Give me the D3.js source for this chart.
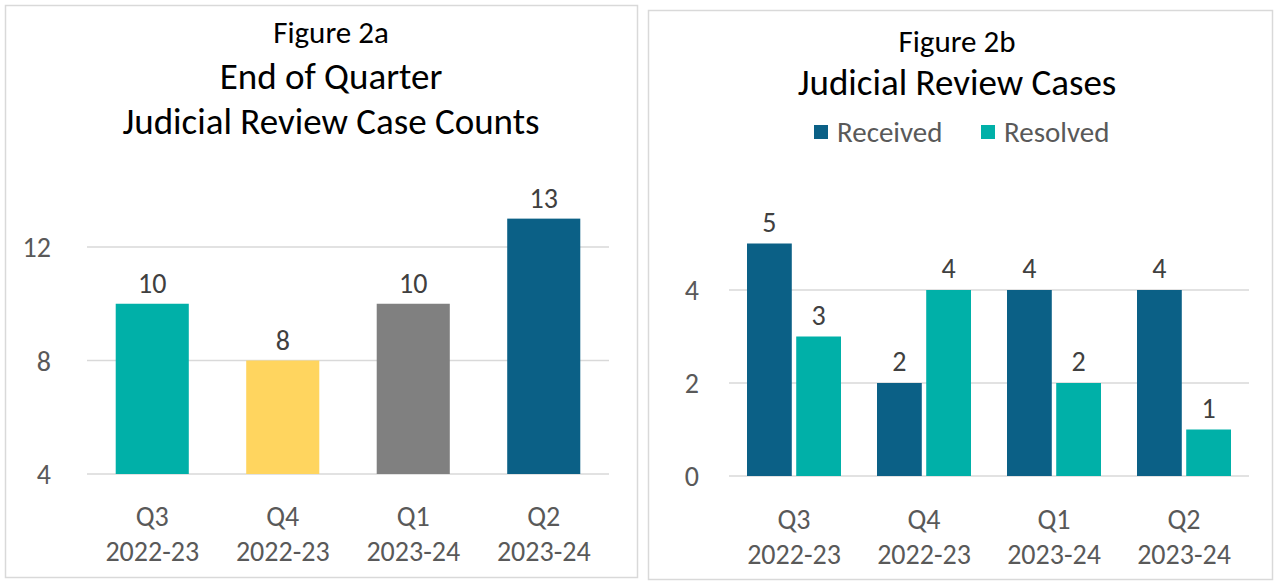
<!DOCTYPE html>
<html><head><meta charset="utf-8">
<script src="https://cdn.jsdelivr.net/npm/d3@7"></script>
<style>
html,body{margin:0;padding:0;background:#fff;}
svg{display:block;font-family:Carlito,Calibri,Lato,"Open Sans",sans-serif;}
</style></head>
<body>
<svg id="chart" width="1276" height="582"></svg>
<script>
// ---- Data ----
const quarters = ["Q3", "Q4", "Q1", "Q2"];
const fiscalYears = ["2022-23", "2022-23", "2023-24", "2023-24"];
const caseCounts = [10, 8, 10, 13];
const countColors = ["#00B0A8", "#FFD55F", "#808080", "#0B6086"];
const leftTicks = [4, 8, 12];

const seriesNames = ["Received", "Resolved"];
const received = [5, 2, 4, 4];
const resolved = [3, 4, 2, 1];
const seriesColors = ["#0B6086", "#00B0A8"];
const rightTicks = [0, 2, 4];

const svg = d3.select("#chart");
const gridColor = "#d9d9d9", axisText = "#595959", labelText = "#404040";
const fsAxis = 28, fsLabel = 28, fsFig = 31, fsTitle = 37, fsLegend = 29;

// Panel borders
svg.append("rect").attr("x", 5.5).attr("y", 5.5).attr("width", 632).attr("height", 572)
  .attr("fill", "#fff").attr("stroke", "#d9d9d9").attr("stroke-width", 1.5);
svg.append("rect").attr("x", 648.5).attr("y", 10.5).attr("width", 624).attr("height", 569)
  .attr("fill", "#fff").attr("stroke", "#d9d9d9").attr("stroke-width", 1.5);

function xLabels(g, x, y0) {
  quarters.forEach((q, i) => {
    const cx = x(q) + x.bandwidth() / 2;
    g.append("text").attr("x", cx).attr("y", y0).attr("text-anchor", "middle")
      .attr("font-size", fsAxis).attr("fill", axisText).text(q);
    g.append("text").attr("x", cx).attr("y", y0 + 35).attr("text-anchor", "middle")
      .attr("font-size", fsAxis).attr("fill", axisText).text(fiscalYears[i]);
  });
}

// ---- Left chart ----
{
  const g = svg.append("g");
  const x = d3.scaleBand().domain(quarters).range([87, 609]).paddingInner(0.44).paddingOuter(0.22);
  const y = d3.scaleLinear().domain([4, 12]).range([474, 247]);
  g.selectAll(".grid").data(leftTicks).join("line")
    .attr("x1", 87).attr("x2", 609).attr("y1", d => y(d)).attr("y2", d => y(d))
    .attr("stroke", gridColor).attr("stroke-width", 1.5);
  g.selectAll(".yt").data(leftTicks).join("text")
    .attr("x", 51).attr("y", d => y(d) + 10).attr("text-anchor", "end")
    .attr("font-size", fsAxis).attr("fill", axisText).text(d => d);
  g.selectAll(".bar").data(caseCounts).join("rect")
    .attr("x", (d, i) => x(quarters[i])).attr("width", x.bandwidth())
    .attr("y", d => y(d)).attr("height", d => y(4) - y(d))
    .attr("fill", (d, i) => countColors[i]);
  g.selectAll(".lbl").data(caseCounts).join("text")
    .attr("x", (d, i) => x(quarters[i]) + x.bandwidth() / 2).attr("y", d => y(d) - 11)
    .attr("text-anchor", "middle").attr("font-size", fsLabel).attr("fill", labelText).text(d => d);
  xLabels(g, x, 526);
  g.append("text").attr("x", 331).attr("y", 43).attr("text-anchor", "middle")
    .attr("font-size", fsFig).attr("fill", "#000").text("Figure 2a");
  g.append("text").attr("x", 331).attr("y", 89).attr("text-anchor", "middle")
    .attr("font-size", fsTitle).attr("fill", "#000").text("End of Quarter");
  g.append("text").attr("x", 331).attr("y", 134).attr("text-anchor", "middle")
    .attr("font-size", fsTitle).attr("fill", "#000").text("Judicial Review Case Counts");
}

// ---- Right chart ----
{
  const g = svg.append("g");
  const x0 = d3.scaleBand().domain(quarters).range([729, 1249]).paddingInner(0.277).paddingOuter(0.1385);
  const x1 = d3.scaleBand().domain(seriesNames).range([0, x0.bandwidth()]).paddingInner(0.09);
  const y = d3.scaleLinear().domain([0, 5]).range([476, 243.5]);
  g.selectAll(".grid").data(rightTicks).join("line")
    .attr("x1", 729).attr("x2", 1249).attr("y1", d => y(d)).attr("y2", d => y(d))
    .attr("stroke", gridColor).attr("stroke-width", 1.5);
  g.selectAll(".yt").data(rightTicks).join("text")
    .attr("x", 699).attr("y", d => y(d) + 10).attr("text-anchor", "end")
    .attr("font-size", fsAxis).attr("fill", axisText).text(d => d);
  const series = [received, resolved];
  series.forEach((vals, s) => {
    g.selectAll(".bar" + s).data(vals).join("rect")
      .attr("x", (d, i) => x0(quarters[i]) + x1(seriesNames[s])).attr("width", x1.bandwidth())
      .attr("y", d => y(d)).attr("height", d => y(0) - y(d))
      .attr("fill", seriesColors[s]);
    g.selectAll(".lbl" + s).data(vals).join("text")
      .attr("x", (d, i) => x0(quarters[i]) + x1(seriesNames[s]) + x1.bandwidth() / 2)
      .attr("y", d => y(d) - 12)
      .attr("text-anchor", "middle").attr("font-size", fsLabel).attr("fill", labelText).text(d => d);
  });
  xLabels(g, x0, 529);
  g.append("text").attr("x", 957).attr("y", 52).attr("text-anchor", "middle")
    .attr("font-size", fsFig).attr("fill", "#000").text("Figure 2b");
  g.append("text").attr("x", 957).attr("y", 95).attr("text-anchor", "middle")
    .attr("font-size", fsTitle).attr("fill", "#000").text("Judicial Review Cases");
  // legend
  const legendX = [814, 981];
  seriesNames.forEach((n, i) => {
    g.append("rect").attr("x", legendX[i]).attr("y", 125).attr("width", 14).attr("height", 14)
      .attr("fill", seriesColors[i]);
    g.append("text").attr("x", legendX[i] + 23).attr("y", 142).attr("font-size", fsLegend)
      .attr("fill", axisText).text(n);
  });
}
</script>
</body></html>
